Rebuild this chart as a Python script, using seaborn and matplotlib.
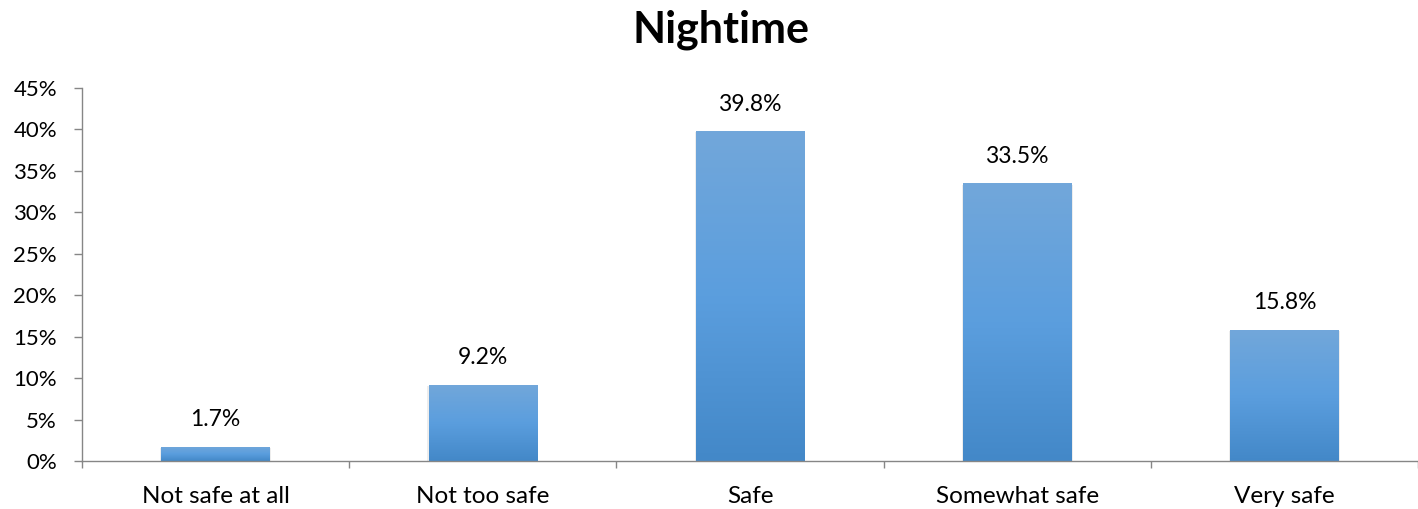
import matplotlib
matplotlib.use("Agg")
import matplotlib.pyplot as plt
import seaborn as sns
import numpy as np
import pandas as pd
from matplotlib.colors import LinearSegmentedColormap
from matplotlib.ticker import MultipleLocator, FuncFormatter, FixedLocator

categories = ["Not safe at all", "Not too safe", "Safe", "Somewhat safe", "Very safe"]
values = [1.7, 9.2, 39.8, 33.5, 15.8]
title = "Nightime"

sns.set_theme(style="white")
plt.rcParams['font.family'] = ['Lato', 'DejaVu Sans']

df = pd.DataFrame({"category": categories, "value": values})

fig = plt.figure(figsize=(14.18, 5.09), dpi=100)
ax = fig.add_axes([82/1418, 48/509, 1 - 82/1418, (461-88)/509])

sns.barplot(data=df, x="category", y="value", color="#5B9BD5", width=0.405,
            ax=ax, saturation=1, edgecolor="none", linewidth=0)

cmap = LinearSegmentedColormap.from_list("g", ["#4388C8", "#5B9EDE", "#72A7DA"])
grad = np.linspace(0, 1, 256).reshape(-1, 1)
for patch, v in zip(ax.patches, values):
    x0, y0 = patch.get_x(), patch.get_y()
    w, h = patch.get_width(), patch.get_height()
    # soft shadow
    ax.bar(x0 + w/2, h, width=w + 0.01, bottom=-0.15, color="#000000", alpha=0.07,
           zorder=1, linewidth=0)
    im = ax.imshow(grad, extent=[x0, x0 + w, y0, y0 + h], origin="lower", cmap=cmap,
                   aspect="auto", zorder=2)
    im.set_clip_path(patch)
    patch.set_zorder(2)
    ax.text(x0 + w/2, h + 2.0, f"{v:.1f}%", ha="center", va="bottom",
            fontsize=16.5, color="#000000")

ax.set_xlim(-0.5, 4.5)
ax.set_ylim(0, 45)
ax.yaxis.set_major_locator(MultipleLocator(5))
ax.yaxis.set_major_formatter(FuncFormatter(lambda v, p: f"{int(round(v))}%"))
ax.set_xlabel("")
ax.set_ylabel("")

axis_color = "#868686"
for s in ["top", "right"]:
    ax.spines[s].set_visible(False)
for s in ["left", "bottom"]:
    ax.spines[s].set_color(axis_color)
    ax.spines[s].set_linewidth(1.0)

ax.tick_params(axis="y", which="major", left=True, length=6, width=1, color=axis_color,
               labelsize=16, labelcolor="#000000", pad=12)
ax.tick_params(axis="x", which="major", bottom=False, labelsize=17.5, labelcolor="#000000", pad=12)
ax.xaxis.set_minor_locator(FixedLocator([-0.5, 0.5, 1.5, 2.5, 3.5, 4.5]))
ax.tick_params(axis="x", which="minor", bottom=True, length=5, width=1, color=axis_color,
               direction="out")

fig.text(721/1418, 1 - 30/509, title, ha="center", va="center", fontsize=31,
         fontweight="bold", color="#000000")

fig.savefig("out.png", dpi=100)
